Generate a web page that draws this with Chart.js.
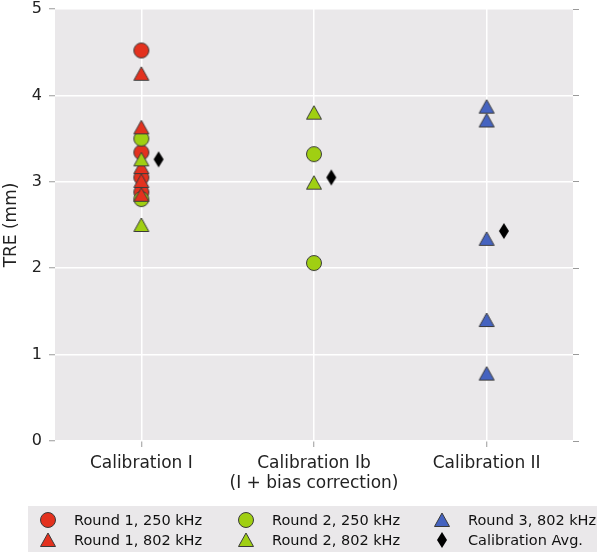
<!DOCTYPE html>
<html>
<head>
<meta charset="utf-8">
<script src="https://cdn.jsdelivr.net/npm/chart.js@4.4.1/dist/chart.umd.min.js"></script>
<style>
  html, body { margin: 0; padding: 0; background: #fff; }
  canvas { display: block; }
</style>
</head>
<body>
<canvas id="treChart" width="600" height="553"></canvas>
<script>
// TRE per calibration method, one list per category (I, Ib, II)
const categories = ['Calibration I', ['Calibration Ib', '(I + bias correction)'], 'Calibration II'];
const yTicks = [0, 1, 2, 3, 4, 5];

const round1_250kHz = [[4.52, 3.34, 3.05, 2.88], [], []];
const round1_802kHz = [[4.25, 3.63, 3.17, 3.01, 2.85], [], []];
const round2_250kHz = [[3.50, 2.80], [3.32, 2.06], []];
const round2_802kHz = [[3.26, 2.50], [3.80, 2.99], []];
const round3_802kHz = [[], [], [3.87, 3.71, 2.34, 1.40, 0.78]];
const calibrationAvg = [3.26, 3.05, 2.43];
const avgOffset = 0.1; // average marker sits just right of the column

const RED = '#e3311e';
const GREEN = '#a0cf12';
const BLUE = '#4563c0';
const EDGE = '#3a3a3a';
const FONT = "'DejaVu Sans', sans-serif";

// markers drawn on small canvases so the triangle is centred like matplotlib's '^'
function makeMarker(shape, fill) {
  const c = document.createElement('canvas');
  c.width = 20; c.height = 20;
  const g = c.getContext('2d');
  g.fillStyle = fill;
  g.strokeStyle = EDGE;
  g.lineWidth = 1;
  g.beginPath();
  if (shape === 'circle') {
    g.arc(10, 10, 7.5, 0, Math.PI * 2);
  } else if (shape === 'triangle') {
    g.moveTo(10, 3);
    g.lineTo(17.5, 16.5);
    g.lineTo(2.5, 16.5);
    g.closePath();
  } else if (shape === 'diamond') {
    g.moveTo(10, 2);
    g.lineTo(15, 10);
    g.lineTo(10, 18);
    g.lineTo(5, 10);
    g.closePath();
  }
  g.fill();
  if (shape !== 'diamond') g.stroke();
  return c;
}

function toPoints(lists) {
  const pts = [];
  lists.forEach((vals, i) => vals.forEach(v => pts.push({ x: i, y: v })));
  return pts;
}

const datasets = [
  { label: 'Round 1, 250 kHz', data: toPoints(round1_250kHz), pointStyle: makeMarker('circle', RED), order: 6 },
  { label: 'Round 2, 250 kHz', data: toPoints(round2_250kHz), pointStyle: makeMarker('circle', GREEN), order: 5 },
  { label: 'Round 1, 802 kHz', data: toPoints(round1_802kHz), pointStyle: makeMarker('triangle', RED), order: 4 },
  { label: 'Round 2, 802 kHz', data: toPoints(round2_802kHz), pointStyle: makeMarker('triangle', GREEN), order: 3 },
  { label: 'Round 3, 802 kHz', data: toPoints(round3_802kHz), pointStyle: makeMarker('triangle', BLUE), order: 2 },
  { label: 'Calibration Avg.', data: calibrationAvg.map((v, i) => ({ x: i + avgOffset, y: v })), pointStyle: makeMarker('diamond', '#000'), order: 1 }
];

// legend laid out in a 3x2 grid like the original
const legendGrid = [
  ['Round 1, 250 kHz', 'Round 2, 250 kHz', 'Round 3, 802 kHz'],
  ['Round 1, 802 kHz', 'Round 2, 802 kHz', 'Calibration Avg.']
];

const gridLegend = {
  id: 'gridLegend',
  afterDraw(chart) {
    const ctx = chart.ctx;
    ctx.save();
    ctx.fillStyle = '#eae8ea';
    ctx.fillRect(28, 506, 569, 46);
    ctx.font = '14.5px ' + FONT;
    ctx.textBaseline = 'middle';
    const colX = [48, 246, 442];
    const rowY = [520, 540];
    legendGrid.forEach((row, r) => {
      row.forEach((label, c) => {
        const ds = chart.data.datasets.find(d => d.label === label);
        const img = ds.pointStyle;
        ctx.drawImage(img, colX[c] - img.width / 2, rowY[r] - img.height / 2);
        ctx.fillStyle = '#111';
        ctx.fillText(label, colX[c] + 26, rowY[r] + 1);
      });
    });
    ctx.restore();
  }
};

const plotBackground = {
  id: 'plotBackground',
  beforeDraw(chart) {
    const a = chart.chartArea;
    chart.ctx.save();
    chart.ctx.fillStyle = '#eae8ea';
    chart.ctx.fillRect(a.left, a.top, a.right - a.left, a.bottom - a.top);
    chart.ctx.restore();
  }
};

new Chart(document.getElementById('treChart'), {
  type: 'scatter',
  data: { datasets: datasets },
  options: {
    responsive: false,
    animation: false,
    layout: { padding: { top: 8, left: 0, right: 0, bottom: 0 } },
    elements: { point: { radius: 8, hoverRadius: 8 } },
    plugins: {
      legend: { display: false },
      tooltip: { enabled: false }
    },
    scales: {
      x: {
        type: 'linear',
        min: -0.5,
        max: 2.5,
        afterBuildTicks: scale => { scale.ticks = categories.map((c, i) => ({ value: i })); },
        afterFit: scale => { scale.height = 112; scale.paddingLeft = 0; scale.paddingRight = 0; },
        ticks: {
          callback: (v) => categories[v],
          color: '#222',
          font: { family: FONT, size: 17 },
          padding: 6,
          maxRotation: 0,
          autoSkip: false
        },
        grid: { color: '#ffffff', lineWidth: 1.5, tickColor: '#9a9a9a', tickLength: 6, tickWidth: 1 },
        border: { display: false }
      },
      y: {
        position: 'left',
        min: 0,
        max: 5,
        afterBuildTicks: scale => { scale.ticks = yTicks.map(v => ({ value: v })); },
        afterFit: scale => { scale.width = 55; scale.paddingTop = 0; scale.paddingBottom = 0; },
        title: {
          display: true,
          text: 'TRE (mm)',
          color: '#222',
          font: { family: FONT, size: 17 },
          padding: { top: 1, bottom: 2 }
        },
        ticks: {
          color: '#222',
          font: { family: FONT, size: 16 },
          padding: 7
        },
        grid: { color: '#ffffff', lineWidth: 1.5, tickColor: '#9a9a9a', tickLength: 6, tickWidth: 1 },
        border: { display: false }
      },
      yRight: {
        position: 'right',
        min: 0,
        max: 5,
        afterBuildTicks: scale => { scale.ticks = yTicks.map(v => ({ value: v })); },
        afterFit: scale => { scale.width = 27; scale.paddingTop = 0; scale.paddingBottom = 0; },
        ticks: { display: false },
        grid: { drawOnChartArea: false, tickColor: '#9a9a9a', tickLength: 6, tickWidth: 1 },
        border: { display: false }
      }
    }
  },
  plugins: [plotBackground, gridLegend]
});
</script>
</body>
</html>
